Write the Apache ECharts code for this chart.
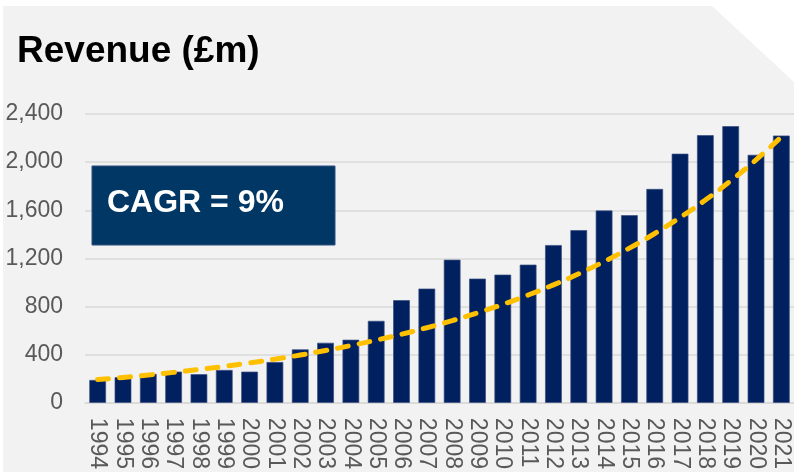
<!DOCTYPE html>
<html>
<head>
<meta charset="utf-8">
<script src="https://cdn.jsdelivr.net/npm/echarts@6/dist/echarts.min.js"></script>
<style>
  html, body { margin: 0; padding: 0; background: #ffffff; }
  #chart { width: 794px; height: 472px; }
</style>
</head>
<body>
<div id="chart"></div>
<script>
// categories
const years = ['1994','1995','1996','1997','1998','1999','2000','2001','2002','2003','2004','2005','2006','2007',
  '2008','2009','2010','2011','2012','2013','2014','2015','2016','2017','2018','2019','2020','2021'];
// revenue, £m
const revenue = [190, 213, 240, 259, 238, 273, 259, 339, 444, 499, 524, 681, 853, 949,
  1189, 1032, 1065, 1148, 1311, 1435, 1598, 1559, 1777, 2070, 2224, 2299, 2061, 2221];
// dashed trend line values
const trend = [193, 211, 231, 253, 277, 303, 332, 363, 397, 435, 476, 521, 570, 624,
  683, 748, 818, 896, 980, 1073, 1174, 1285, 1407, 1540, 1685, 1845, 2019, 2210];
const yTicks = { min: 0, max: 2400, interval: 400 };

const font = '"Liberation Sans", Arial, sans-serif';
const myChart = echarts.init(document.getElementById('chart'));

const options = {
  animation: false,
  backgroundColor: '#ffffff',
  grid: { left: 85, right: -8, top: 114, bottom: 68, containLabel: false },
  graphic: [
    {
      type: 'polygon', z: -10, silent: true,
      shape: { points: [[3, 6], [712, 6], [794, 82], [794, 472], [3, 472]] },
      style: { fill: '#f2f2f2' }
    },
    {
      type: 'text', left: 17, top: 33, z: 10,
      style: { text: 'Revenue (£m)', fill: '#000000', font: 'bold 37px ' + font }
    },
    {
      type: 'rect', z: 20,
      shape: { x: 92, y: 166, width: 243, height: 79 },
      style: { fill: '#003764', stroke: '#2f4f7f', lineWidth: 1 }
    },
    {
      type: 'text', z: 21, x: 107, y: 203,
      style: { text: 'CAGR = 9%', fill: '#ffffff', font: 'bold 32px ' + font, verticalAlign: 'middle' }
    }
  ],
  xAxis: {
    type: 'category',
    data: years,
    boundaryGap: true,
    axisLine: { show: true, lineStyle: { color: '#d9d9d9', width: 1.5 } },
    axisTick: { show: false },
    axisLabel: {
      rotate: -90, interval: 0, margin: 15,
      color: '#595959', fontSize: 23, fontFamily: font
    }
  },
  yAxis: {
    type: 'value',
    min: yTicks.min, max: yTicks.max, interval: yTicks.interval,
    axisLine: { show: false },
    axisTick: { show: false },
    splitLine: { lineStyle: { color: '#d9d9d9', width: 1.5 } },
    axisLabel: {
      margin: 22, color: '#595959', fontSize: 23, fontFamily: font,
      formatter: v => v.toLocaleString('en-US')
    }
  },
  series: [
    {
      name: 'Revenue',
      type: 'bar',
      data: revenue,
      barWidth: '66%',
      itemStyle: { color: '#002060', borderColor: '#3a4f80', borderWidth: 0.7 },
      z: 2
    },
    {
      name: 'Trend',
      type: 'line',
      data: trend,
      smooth: true,
      showSymbol: false,
      lineStyle: { color: '#ffc000', width: 5, type: [11, 11], cap: 'round' },
      z: 5
    }
  ]
};
myChart.setOption(options);
window.onresize = function () {
  myChart.resize();
};
</script>
</body>
</html>
